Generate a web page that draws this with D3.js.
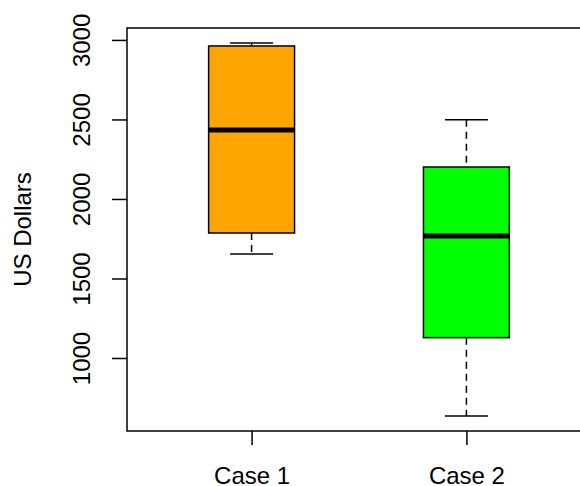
<!DOCTYPE html>
<html>
<head>
<meta charset="utf-8">
<script src="https://cdn.jsdelivr.net/npm/d3@7"></script>
<style>
  body { margin: 0; background: #fff; }
  text { font-family: "Liberation Sans", Arial, Helvetica, sans-serif; }
</style>
</head>
<body>
<svg id="chart" width="580" height="486"></svg>
<script>
// data
var categories = ['Case 1', 'Case 2'];
var lowerWhisker = [1654, 635];
var lowerQuartile = [1786, 1128];
var medians = [2434, 1767];
var upperQuartile = [2962, 2201];
var upperWhisker = [2980, 2498];
var colors = ['#FFA500', '#00FF00'];
var yTicks = [1000, 1500, 2000, 2500, 3000];

// layout
var plot = { left: 127, top: 28, right: 591, bottom: 431 };
var svg = d3.select('#chart');

// scales
var x = d3.scaleLinear().domain([0.42, 2.58]).range([plot.left, plot.right]);
var y = d3.scaleLinear().domain([541, 3075]).range([plot.bottom, plot.top]);
var boxHalf = 0.2;
var capHalf = 0.1;

// boxes
categories.forEach(function(name, i) {
    var pos = i + 1;
    var g = svg.append('g');

    // whiskers
    g.append('line')
        .attr('x1', x(pos)).attr('x2', x(pos))
        .attr('y1', y(upperWhisker[i])).attr('y2', y(upperQuartile[i]))
        .attr('stroke', '#000').attr('stroke-width', 1.5)
        .attr('stroke-dasharray', '7,5');
    g.append('line')
        .attr('x1', x(pos)).attr('x2', x(pos))
        .attr('y1', y(lowerQuartile[i])).attr('y2', y(lowerWhisker[i]))
        .attr('stroke', '#000').attr('stroke-width', 1.5)
        .attr('stroke-dasharray', '7,5');

    // caps
    [upperWhisker[i], lowerWhisker[i]].forEach(function(v) {
        g.append('line')
            .attr('x1', x(pos - capHalf)).attr('x2', x(pos + capHalf))
            .attr('y1', y(v)).attr('y2', y(v))
            .attr('stroke', '#000').attr('stroke-width', 1.5);
    });

    // box
    g.append('rect')
        .attr('x', x(pos - boxHalf))
        .attr('y', y(upperQuartile[i]))
        .attr('width', x(pos + boxHalf) - x(pos - boxHalf))
        .attr('height', y(lowerQuartile[i]) - y(upperQuartile[i]))
        .attr('fill', colors[i])
        .attr('stroke', '#000').attr('stroke-width', 1.5);

    // median
    g.append('line')
        .attr('x1', x(pos - boxHalf)).attr('x2', x(pos + boxHalf))
        .attr('y1', y(medians[i])).attr('y2', y(medians[i]))
        .attr('stroke', '#000').attr('stroke-width', 5);
});

// frame
svg.append('rect')
    .attr('x', plot.left).attr('y', plot.top)
    .attr('width', plot.right - plot.left).attr('height', plot.bottom - plot.top)
    .attr('fill', 'none').attr('stroke', '#000').attr('stroke-width', 1.5);

// y axis
var yAxis = svg.append('g')
    .attr('transform', 'translate(' + plot.left + ',0)')
    .call(d3.axisLeft(y).tickValues(yTicks).tickSize(15).tickPadding(0).tickFormat(d3.format('d')));
yAxis.select('.domain').remove();
yAxis.selectAll('.tick line').attr('stroke', '#000').attr('stroke-width', 1.5);
yAxis.selectAll('.tick text')
    .attr('x', null).attr('dy', null)
    .attr('transform', 'translate(-37,0) rotate(-90)')
    .attr('text-anchor', 'middle')
    .attr('y', 0)
    .style('font-size', '24px')
    .attr('fill', '#000');

// x axis
var xAxis = svg.append('g')
    .attr('transform', 'translate(0,' + plot.bottom + ')')
    .call(d3.axisBottom(x).tickValues([1, 2]).tickSize(14).tickPadding(22)
        .tickFormat(function(d) { return categories[d - 1]; }));
xAxis.select('.domain').remove();
xAxis.selectAll('.tick line').attr('stroke', '#000').attr('stroke-width', 1.5);
xAxis.selectAll('.tick text').style('font-size', '24px').attr('fill', '#000');

// y label
svg.append('text')
    .attr('transform', 'translate(31,' + (plot.top + plot.bottom) / 2 + ') rotate(-90)')
    .attr('text-anchor', 'middle')
    .style('font-size', '24px')
    .text('US Dollars');
</script>
</body>
</html>
